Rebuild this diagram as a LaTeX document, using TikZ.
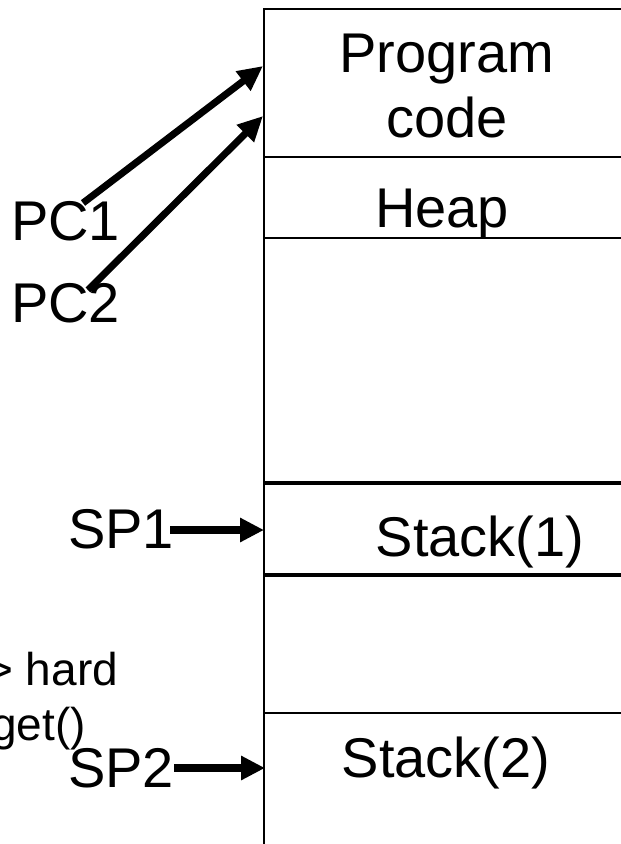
\documentclass[tikz,border=0pt]{standalone}
\usepackage{fontspec}
\setmainfont{Liberation Sans}
\usetikzlibrary{arrows.meta}
\begin{document}
\begin{tikzpicture}[x=1pt,y=-1pt,
  biglabel/.style={inner sep=0pt,outer sep=0pt,font=\fontsize{56}{60}\selectfont},
  smalllabel/.style={inner sep=0pt,outer sep=0pt,font=\fontsize{46}{50}\selectfont},
  thinrule/.style={line width=2.2pt},
  thickrule/.style={line width=4.2pt},
  pointer/.style={line width=7pt,-{Triangle[length=25pt,width=23pt]}},
  hpointer/.style={line width=7.5pt,-{Triangle[length=24pt,width=23pt]}}]
\useasboundingbox (0,0) rectangle (621,844);
\clip (0,0) rectangle (621,844);

% memory column
\draw[thinrule] (264,850) -- (264,9) -- (630,9);
\draw[thinrule] (264,157) -- (630,157);
\draw[thinrule] (264,238) -- (630,238);
\draw[thickrule] (264,483) -- (630,483);
\draw[thickrule] (264,575) -- (630,575);
\draw[thinrule] (264,713) -- (630,713);

% region labels
\node[biglabel,anchor=base] (prog) at (447,72) {Program};
\node[biglabel,anchor=base] (code) at (447,137) {code};
\node[biglabel,anchor=base] (heap) at (442,227) {Heap};
\node[biglabel,anchor=base] (stack1) at (480,556) {Stack(1)};
\node[biglabel,anchor=base] (stack2) at (446,777) {Stack(2)};

% register labels
\node[biglabel,anchor=base west] (pc1) at (11,240) {PC1};
\node[biglabel,anchor=base west] (pc2) at (11,322) {PC2};
\node[biglabel,anchor=base west] (sp1) at (68,548) {SP1};
\node[biglabel,anchor=base west] (sp2) at (68,787) {SP2};

% side note, running in from the left edge
\node[smalllabel,anchor=base east] (note1) at (118,685) {> hard};
\node[smalllabel,anchor=base east] (note2) at (86,740) {get()};

% pointer sources and targets
\coordinate (pc1t) at (83,203);
\coordinate (pc1h) at (263,66);
\coordinate (pc2t) at (88,290);
\coordinate (pc2h) at (263,116);
\coordinate (sp1t) at (170,530);
\coordinate (sp1h) at (264,530);
\coordinate (sp2t) at (174,768);
\coordinate (sp2h) at (265,768);

\draw[pointer] (pc1t) -- (pc1h);
\draw[pointer] (pc2t) -- (pc2h);
\draw[hpointer] (sp1t) -- (sp1h);
\draw[hpointer] (sp2t) -- (sp2h);
\end{tikzpicture}
\end{document}
